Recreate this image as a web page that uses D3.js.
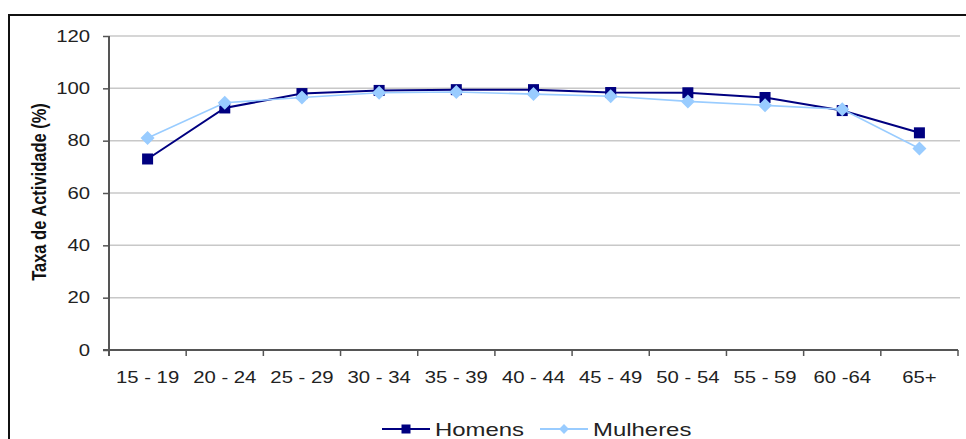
<!DOCTYPE html>
<html>
<head>
<meta charset="utf-8">
<script src="https://cdn.jsdelivr.net/npm/d3@7"></script>
<style>
	body { margin: 0; background: #fff; }
	svg { display: block; font-family: "Liberation Sans", Arial, sans-serif; }
</style>
</head>
<body>
<svg id="chart" width="966" height="439"></svg>
<script>

var categories = ["15 - 19", "20 - 24", "25 - 29", "30 - 34", "35 - 39", "40 - 44", "45 - 49", "50 - 54", "55 - 59", "60 -64", "65+"];
var homens = [73, 92.5, 98, 99.2, 99.5, 99.5, 98.4, 98.3, 96.5, 91.5, 83];
var mulheres = [81, 94.5, 96.5, 98.3, 98.6, 97.8, 97, 95, 93.5, 92, 77];
var yticks = [0, 20, 40, 60, 80, 100, 120];

var series = [
	{ name: "Homens", values: homens, color: "#000080", marker: "square", width: 2 },
	{ name: "Mulheres", values: mulheres, color: "#99ccff", marker: "diamond", width: 1.6 },
];

// the original picture is stretched sideways
const sx = 1.27;

var svg = d3.select("#chart");

// outer frame (right and bottom edges are cut off in the original)
svg.append("path")
	.attr("d", "M9,440 L9,15 L970,15")
	.attr("fill", "none")
	.attr("stroke", "#111")
	.attr("stroke-width", 2);

const margin = { left: 109, top: 36, right: 958, bottom: 350 };

var x = d3.scaleBand(categories, [margin.left, margin.right]);
var y = d3.scaleLinear([0, 120], [margin.bottom, margin.top]);

// grid
svg.append("g")
	.selectAll("line")
	.data(yticks.filter(d => d > 0))
	.join("line")
	.attr("x1", margin.left)
	.attr("x2", 960)
	.attr("y1", d => y(d))
	.attr("y2", d => y(d))
	.attr("stroke", "#c8c8c8")
	.attr("stroke-width", 1.5);

// y axis
var yaxis = svg.append("g")
	.attr("transform", `translate(${margin.left},0)`)
	.call(d3.axisLeft(y).tickValues(yticks).tickSize(6).tickFormat(""));

yaxis.select(".domain").attr("stroke", "#555").attr("stroke-width", 2).attr("d", `M0,${margin.top}V${margin.bottom + 6}`);
yaxis.selectAll(".tick line").attr("stroke", "#555").attr("stroke-width", 1.5);

svg.append("g")
	.selectAll("g")
	.data(yticks)
	.join("g")
	.attr("transform", d => `translate(90,${y(d) + 5.5}) scale(${sx},1)`)
	.append("text")
	.attr("text-anchor", "end")
	.attr("font-size", 16)
	.attr("fill", "#222")
	.text(d => d);

// x axis
var xaxis = svg.append("g")
	.attr("transform", `translate(0,${margin.bottom})`);

xaxis.append("line")
	.attr("x1", margin.left - 6)
	.attr("x2", margin.right)
	.attr("stroke", "#555")
	.attr("stroke-width", 2);

xaxis.selectAll(".xt")
	.data(categories.concat(["end"]))
	.join("line")
	.attr("class", "xt")
	.attr("x1", (d, i) => i < categories.length ? x(d) : margin.right)
	.attr("x2", (d, i) => i < categories.length ? x(d) : margin.right)
	.attr("y1", 0)
	.attr("y2", 6)
	.attr("stroke", "#555")
	.attr("stroke-width", 1.5);

xaxis.selectAll(".xl")
	.data(categories)
	.join("g")
	.attr("class", "xl")
	.attr("transform", d => `translate(${x(d) + x.bandwidth() / 2},33) scale(${sx},1)`)
	.append("text")
	.attr("text-anchor", "middle")
	.attr("font-size", 16)
	.attr("fill", "#222")
	.text(d => d);

// axis title
svg.append("text")
	.attr("transform", `translate(46,${(margin.top + margin.bottom) / 2 - 1}) rotate(-90) scale(1,${sx})`)
	.attr("text-anchor", "middle")
	.attr("font-size", 16.5)
	.attr("font-weight", "bold")
	.attr("fill", "#111")
	.text("Taxa de Actividade (%)");

function marker(g, type, color, size)	{
	if(type === "square")
		g.append("rect")
			.attr("x", -size / 2).attr("y", -size / 2)
			.attr("width", size).attr("height", size)
			.attr("fill", color);
	else
		g.append("path")
			.attr("d", `M0,${-size * 0.7}L${size * 0.7},0L0,${size * 0.7}L${-size * 0.7},0Z`)
			.attr("fill", color);
}

var cx = (d, i) => x(categories[i]) + x.bandwidth() / 2;

series.forEach(s => {
	var g = svg.append("g");
	g.append("path")
		.attr("fill", "none")
		.attr("stroke", s.color)
		.attr("stroke-width", s.width)
		.attr("d", d3.line().x(cx).y(d => y(d))(s.values));
	g.selectAll("g")
		.data(s.values)
		.join("g")
		.attr("transform", (d, i) => `translate(${cx(d, i)},${y(d)})`)
		.each(function() { marker(d3.select(this), s.marker, s.color, s.marker === "square" ? 11 : 10); });
});

// legend
var leg = svg.append("g").attr("transform", "translate(382,429)");
var lx = [0, 158];
series.forEach((s, i) => {
	var g = leg.append("g").attr("transform", `translate(${lx[i]},0)`);
	g.append("line").attr("x1", 0).attr("x2", 48).attr("stroke", s.color).attr("stroke-width", 2);
	var m = g.append("g").attr("transform", "translate(24,0)");
	marker(m, s.marker, s.color, s.marker === "square" ? 9 : 7);
	g.append("g")
		.attr("transform", `translate(53,7) scale(1.33,1)`)
		.append("text")
		.attr("font-size", 18)
		.attr("fill", "#222")
		.text(s.name);
});

</script>
</body>
</html>
